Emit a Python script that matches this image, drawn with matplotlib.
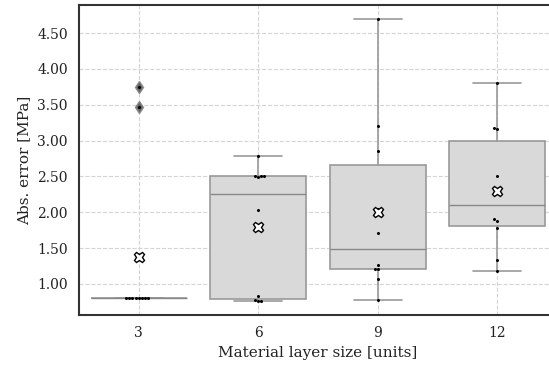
import numpy as np
import pandas as pd
import matplotlib
matplotlib.use("Agg")
import matplotlib.pyplot as plt
import seaborn as sns
from matplotlib.ticker import FormatStrFormatter

# absolute error per run, grouped by material layer size
layer_sizes = ["3", "6", "9", "12"]
err_3 = [0.81, 0.81, 0.81, 0.81, 0.81, 0.81, 0.81, 0.81, 3.47, 3.75]
err_6 = [0.76, 0.76, 0.77, 0.83, 2.03, 2.49, 2.50, 2.50, 2.51, 2.79]
err_9 = [0.77, 1.07, 1.21, 1.21, 1.26, 1.71, 2.05, 2.86, 3.20, 4.69]
err_12 = [1.18, 1.33, 1.78, 1.88, 1.90, 2.30, 2.51, 3.16, 3.18, 3.81]

groups = [err_3, err_6, err_9, err_12]
df = pd.DataFrame({
    "size": np.repeat(layer_sizes, [len(g) for g in groups]),
    "err": np.concatenate(groups),
})

sns.set_style("whitegrid", {"grid.linestyle": "--", "axes.edgecolor": "#333333"})
plt.rcParams["font.family"] = ["DejaVu Serif"]

fig = plt.figure(figsize=(5.49, 3.68), dpi=100)
ax = fig.add_axes([0.1439, 0.144, 0.8707, 0.842])

box_col = "#999999"
ax.boxplot(
    groups, positions=range(len(groups)), widths=0.8, capwidths=0.4,
    patch_artist=True, showmeans=False, whis=1.5,
    boxprops=dict(facecolor="#d9d9d9", edgecolor=box_col, linewidth=1.2),
    whiskerprops=dict(color=box_col, linewidth=1.2),
    capprops=dict(color=box_col, linewidth=1.2),
    medianprops=dict(color="#888888", linewidth=1.0),
    flierprops=dict(marker="d", markerfacecolor="#555555", markeredgecolor="#888888",
                    markersize=6, alpha=0.9),
    zorder=2,
)
sns.swarmplot(data=df, x="size", y="err", order=layer_sizes, color="black",
              size=2.2, ax=ax, zorder=3)

# mean markers on top of the swarm
for i, g in enumerate(groups):
    ax.plot(i, np.mean(g), marker="X", markerfacecolor="white", markeredgecolor="black",
            markersize=7.5, markeredgewidth=1.0, zorder=4)

ax.set_xlim(-0.5, 3.5)
ax.set_ylim(0.567, 4.89)
ax.set_yticks(np.arange(1.0, 4.51, 0.5))
ax.yaxis.set_major_formatter(FormatStrFormatter("%.2f"))
ax.set_xticks(range(len(layer_sizes)))
ax.set_xticklabels(layer_sizes)
ax.tick_params(labelsize=10, length=0, pad=8, labelcolor="#222222")
ax.grid(True, linestyle="--", color="#d4d4d4", linewidth=0.8)
ax.set_axisbelow(True)
for s in ax.spines.values():
    s.set_linewidth(1.5)
    s.set_color("#333333")

ax.set_xlabel("Material layer size [units]", fontsize=11, labelpad=4, color="#222222")
ax.set_ylabel("Abs. error [MPa]", fontsize=11, labelpad=4, color="#222222")

fig.savefig("out.png", dpi=100)
